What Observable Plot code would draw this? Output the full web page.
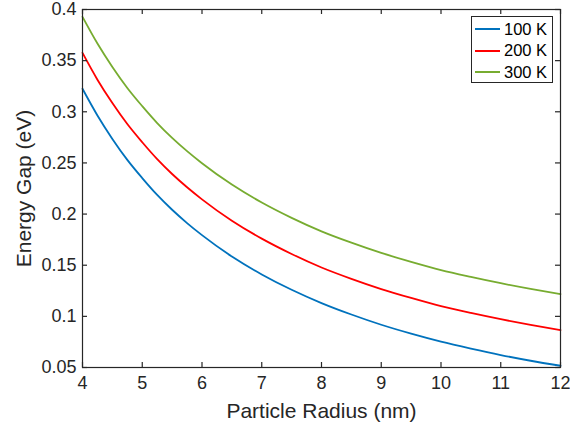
<!DOCTYPE html>
<html>
<head>
<meta charset="utf-8">
<script src="https://cdn.jsdelivr.net/npm/d3@7"></script>
<script src="https://cdn.jsdelivr.net/npm/@observablehq/plot@0.6"></script>
<style>
  html, body { margin: 0; padding: 0; background: #fff; }
  #wrap { position: relative; width: 570px; height: 429px; font-family: "Liberation Sans", Arial, sans-serif; }
  #legend { position: absolute; left: 471px; top: 16px; width: 80px; height: 65px; border: 1px solid #262626; background: #fff; box-sizing: content-box; }
  .row { position: absolute; left: 3px; height: 20px; display: flex; align-items: center; font-size: 16.5px; color: #000; }
  .sw { width: 25px; height: 0; border-top: 2px solid; margin-right: 4px; }
</style>
</head>
<body>
<div id="wrap"></div>
<script>
// Data
const radius = [4, 4.25, 4.5, 4.75, 5, 5.25, 5.5, 5.75, 6, 6.5, 7, 7.5, 8, 8.5, 9, 9.5, 10, 10.5, 11, 11.5, 12];
const gap100 = [0.3225, 0.2964, 0.2735, 0.2530, 0.2352, 0.2187, 0.2042, 0.1912, 0.1794, 0.1585, 0.1410, 0.1260, 0.1130, 0.1018, 0.0918, 0.0831, 0.0753, 0.0685, 0.0622, 0.0566, 0.0517];
const gap200 = [0.3576, 0.3314, 0.3085, 0.2880, 0.2702, 0.2537, 0.2392, 0.2262, 0.2144, 0.1935, 0.1760, 0.1610, 0.1478, 0.1367, 0.1267, 0.1180, 0.1100, 0.1033, 0.0972, 0.0916, 0.0865];
const gap300 = [0.3928, 0.3667, 0.3438, 0.3233, 0.3055, 0.2890, 0.2745, 0.2615, 0.2497, 0.2288, 0.2113, 0.1963, 0.1831, 0.1720, 0.1620, 0.1533, 0.1453, 0.1386, 0.1324, 0.1268, 0.1217];
const seriesNames = ["100 K", "200 K", "300 K"];
const seriesColors = ["#0072BD", "#FF0000", "#77AC30"];
const xTicks = [4, 5, 6, 7, 8, 9, 10, 11, 12];
const yTicks = [0.05, 0.1, 0.15, 0.2, 0.25, 0.3, 0.35, 0.4];
const yTickLabels = ["0.05", "0.1", "0.15", "0.2", "0.25", "0.3", "0.35", "0.4"];
const xLabel = "Particle Radius (nm)";
const yLabel = "Energy Gap (eV)";

const W = 570, H = 429, mL = 82, mR = 10, mT = 9, mB = 62;
const fw = W - mL - mR, fh = H - mT - mB, tick = 5;
const axisColor = "#262626";

const allSeries = [gap100, gap200, gap300];
const rows = [];
allSeries.forEach((s, k) => s.forEach((v, i) => rows.push({r: radius[i], e: v, s: seriesNames[k]})));

const plot = Plot.plot({
  width: W, height: H,
  marginLeft: mL, marginRight: mR, marginTop: mT, marginBottom: mB,
  style: {fontFamily: "'Liberation Sans', Arial, sans-serif", background: "#fff", color: axisColor},
  x: {domain: [4, 12]},
  y: {domain: [0.05, 0.4]},
  color: {domain: seriesNames, range: seriesColors},
  marks: [
    Plot.line(rows, {x: "r", y: "e", stroke: "s", z: "s", strokeWidth: 1.8, curve: "monotone-x"}),
    Plot.frame({stroke: axisColor, strokeWidth: 1.2}),
    // inward ticks on all four sides
    Plot.ruleX(xTicks, {x: d => d, insetTop: fh - tick, stroke: axisColor, strokeWidth: 1.2}),
    Plot.ruleX(xTicks, {x: d => d, insetBottom: fh - tick, stroke: axisColor, strokeWidth: 1.2}),
    Plot.ruleY(yTicks, {y: d => d, insetRight: fw - tick, stroke: axisColor, strokeWidth: 1.2}),
    Plot.ruleY(yTicks, {y: d => d, insetLeft: fw - tick, stroke: axisColor, strokeWidth: 1.2}),
    Plot.axisX({ticks: xTicks, tickSize: 0, tickPadding: 9, fontSize: 18, label: null, tickFormat: d => String(d)}),
    Plot.axisY({ticks: yTicks, tickSize: 0, tickPadding: 6, fontSize: 18, label: null, tickFormat: d => yTickLabels[yTicks.indexOf(d)]}),
    Plot.text([xLabel], {frameAnchor: "bottom", dy: 50, lineAnchor: "bottom", textAnchor: "middle", fontSize: 21, fill: axisColor}),
    Plot.text([yLabel], {frameAnchor: "left", dx: -66, rotate: -90, lineAnchor: "top", textAnchor: "middle", fontSize: 21, fill: axisColor})
  ]
});

const wrap = document.getElementById("wrap");
wrap.appendChild(plot);

const legend = document.createElement("div");
legend.id = "legend";
seriesNames.forEach((name, k) => {
  const row = document.createElement("div");
  row.className = "row";
  row.style.top = (2 + k * 21.5) + "px";
  const sw = document.createElement("span");
  sw.className = "sw";
  sw.style.borderTopColor = seriesColors[k];
  const t = document.createElement("span");
  t.textContent = name;
  row.appendChild(sw);
  row.appendChild(t);
  legend.appendChild(row);
});
wrap.appendChild(legend);
</script>
</body>
</html>
